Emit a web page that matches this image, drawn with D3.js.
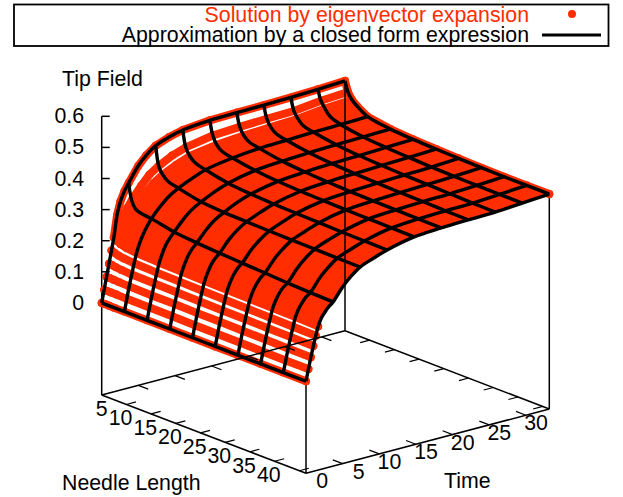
<!DOCTYPE html>
<html>
<head>
<meta charset="utf-8">
<script src="https://cdn.jsdelivr.net/npm/d3@7"></script>
<style>
  html, body { margin: 0; padding: 0; background: #fff; }
  text { font-family: "Liberation Sans", Arial, sans-serif; font-size: 21.3px; fill: #000; }
</style>
</head>
<body>
<div id="chart"></div>
<script>
// needle lengths and times of the surface samples
const lengths = [5, 5.6, 6.4, 7.5, 9.59, 14.19, 18.78, 23.38, 27.97, 32.57, 37.16, 41.76, 46.35];
const times = [0, 0.33, 0.66, 1, 1.33, 1.66, 2.1, 2.55, 3.1, 3.69, 5, 6.1, 7.38, 9.2, 11.07, 14.76, 18.44, 22.13, 25.82, 29.51, 33.2];

// tip field, one row per time. both series sit on top of each other within reading accuracy
const tipField = [
  [0, 0, 0, 0, 0, 0, 0, 0, 0, 0, 0, 0, 0],
  [.04, .04, .04, .04, .039, .039, .039, .038, .038, .038, .037, .037, .037],
  [.08, .08, .079, .078, .077, .076, .076, .075, .075, .074, .074, .073, .073],
  [.12, .119, .117, .115, .113, .112, .111, .11, .109, .109, .108, .108, .107],
  [.16, .157, .153, .15, .147, .145, .144, .143, .142, .141, .14, .139, .138],
  [.2, .193, .187, .182, .178, .175, .174, .172, .171, .17, .169, .168, .166],
  [.27, .235, .225, .215, .208, .203, .2, .198, .196, .195, .193, .192, .19],
  [.31, .265, .248, .24, .232, .226, .222, .219, .216, .213, .211, .208, .205],
  [.34, .29, .27, .261, .255, .245, .24, .236, .233, .23, .227, .224, .22],
  [.363, .31, .287, .28, .276, .261, .254, .249, .245, .241, .237, .234, .232],
  [.41, .35, .33, .318, .31, .295, .289, .285, .282, .279, .276, .274, .272],
  [.437, .378, .355, .342, .333, .318, .312, .308, .305, .303, .301, .299, .298],
  [.46, .398, .375, .36, .351, .335, .329, .327, .325, .324, .323, .322, .321],
  [.476, .42, .395, .38, .37, .356, .35, .345, .343, .341, .34, .339, .338],
  [.487, .435, .412, .397, .387, .372, .365, .361, .359, .357, .355, .354, .353],
  [.495, .45, .425, .41, .402, .39, .383, .379, .377, .375, .374, .373, .372],
  [.497, .455, .432, .418, .41, .397, .39, .386, .383, .381, .38, .379, .378],
  [.498, .458, .436, .421, .413, .401, .394, .39, .387, .385, .384, .382, .381],
  [.5, .46, .44, .424, .416, .404, .397, .393, .39, .388, .386, .384, .383],
  [.503, .47, .45, .43, .418, .406, .4, .396, .393, .391, .39, .389, .389],
  [.507, .475, .455, .44, .42, .408, .403, .4, .398, .396, .395, .395, .395]
];

// which samples the closed form grid lines go through
const gridLengthIdx = [0, 4, 5, 6, 7, 8, 9, 10, 11, 12];
const gridTimeIdx = [0, 9, 12, 14, 15, 16, 17, 18, 19, 20];

const lengthTicks = [10, 15, 20, 25, 30, 35, 40, 45];
const lengthLabels = [5, 10, 15, 20, 25, 30, 35, 40];
const timeTicks = [5, 10, 15, 20, 25, 30];
const timeLabels = [0, 5, 10, 15, 20, 25, 30];
const zTicks = [0, 0.1, 0.2, 0.3, 0.4, 0.5, 0.6];

const red = "#ff2d00";
const width = 623, height = 497;
const dotR = 4;

const svg = d3.select("#chart").append("svg").attr("width", width).attr("height", height)
  .style("display", "block");

// 3d box: the base is a parallelogram, z goes straight up
const lenScale = d3.scaleLinear().domain([5, 46.35]).range([0, 1]);
const timeScale = d3.scaleLinear().domain([0, 33.2]).range([0, 1]);
const zMin = -0.296;
const zScale = d3.scaleLinear().domain([zMin, 0.6]).range([395, 116.3]);

function project(len, time, z) {
  const u = lenScale(len), v = timeScale(time);
  return [101.7 + u * 204.3 + v * 243.3, zScale(z) + u * 78.3 - v * 64.3];
}
const lenMin = lenScale.domain()[0], lenMax = lenScale.domain()[1];
const timeMax = timeScale.domain()[1];

const lineGen = d3.line();
const smoothGen = d3.line().curve(d3.curveCatmullRom.alpha(0.5));

function seg(g, a, b, w) {
  g.append("line").attr("x1", a[0]).attr("y1", a[1]).attr("x2", b[0]).attr("y2", b[1])
    .attr("stroke", "#000").attr("stroke-width", w || 1.5);
}

const back = svg.append("g");    // stuff the surface covers
const surf = svg.append("g");    // red points
const over = svg.append("g");    // box lines on top of the red
const grid = svg.append("g");    // black lines
const labels = svg.append("g");

// z axis on the left corner
seg(back, project(lenMin, 0, zMin), project(lenMin, 0, 0.6));
zTicks.forEach(z => {
  const p = project(lenMin, 0, z);
  seg(back, p, [p[0] + 8, p[1]]);
  labels.append("text").attr("x", 84).attr("y", p[1] + 7).attr("text-anchor", "end").text(z);
});
// other verticals stop at the surface
seg(back, project(lenMax, 0, zMin), project(lenMax, 0, tipField[0][12]));
seg(back, project(lenMax, timeMax, zMin), project(lenMax, timeMax, tipField[20][12]));

// red surface: points, thick rows where they overlap, filled where the points are solid
const rowPts = (i, from, to) => d3.range(from, to).map(j => project(lengths[j], times[i], tipField[i][j]));
const colPts = (j, from, to) => d3.range(from, to).map(i => project(lengths[j], times[i], tipField[i][j]));

for (let i = 5; i < times.length - 1; i++) {
  for (let j = 2; j < lengths.length - 1; j++) {
    surf.append("path")
      .attr("d", lineGen([
        project(lengths[j], times[i], tipField[i][j]),
        project(lengths[j + 1], times[i], tipField[i][j + 1]),
        project(lengths[j + 1], times[i + 1], tipField[i + 1][j + 1]),
        project(lengths[j], times[i + 1], tipField[i + 1][j])
      ]) + "Z")
      .attr("fill", red).attr("stroke", red).attr("stroke-width", 1);
  }
}

function thick(pts) {
  surf.append("path").attr("d", lineGen(pts)).attr("fill", "none").attr("stroke", red)
    .attr("stroke-width", dotR * 2).attr("stroke-linecap", "round").attr("stroke-linejoin", "round");
}
d3.range(0, 6).forEach(i => thick(rowPts(i, 0, lengths.length)));
d3.range(6, 10).forEach(i => thick(rowPts(i, 2, lengths.length - 1)));
thick(rowPts(20, 0, lengths.length));
thick(colPts(0, 5, times.length));
thick(colPts(1, 5, times.length));
thick(colPts(2, 5, times.length));

tipField.forEach((row, i) => row.forEach((z, j) => {
  if (j === 12 && i > 5 && i < 20) return;
  const p = project(lengths[j], times[i], z);
  surf.append("circle").attr("cx", p[0]).attr("cy", p[1]).attr("r", dotR).attr("fill", red);
}));

// box floor and the back vertical, all drawn over the red
const corners = [project(lenMin, 0, zMin), project(lenMax, 0, zMin), project(lenMax, timeMax, zMin), project(lenMin, timeMax, zMin)];
corners.forEach((c, k) => seg(over, c, corners[(k + 1) % 4]));
seg(over, project(lenMin, timeMax, zMin), project(lenMin, timeMax, tipField[20][0]));

// ticks on all four floor edges
lengthTicks.forEach(l => {
  seg(over, project(l, 0, zMin), project(l, 1.3, zMin), 1.2);
  seg(over, project(l, timeMax, zMin), project(l, timeMax - 1.3, zMin), 1.2);
});
timeTicks.forEach(t => {
  seg(over, project(lenMin, t, zMin), project(lenMin + 2, t, zMin), 1.2);
  seg(over, project(lenMax, t, zMin), project(lenMax - 2, t, zMin), 1.2);
});
lengthLabels.forEach(l => {
  const p = project(l, 0, zMin);
  labels.append("text").attr("x", p[0] + 6).attr("y", p[1] + 21).attr("text-anchor", "end").text(l);
});
timeLabels.forEach(t => {
  const p = project(lenMax, t, zMin);
  labels.append("text").attr("x", p[0] + 22).attr("y", p[1] + 15).attr("text-anchor", "end").text(t);
});

// black grid of the closed form
gridLengthIdx.forEach(j => {
  grid.append("path").attr("d", smoothGen(colPts(j, 0, times.length)))
    .attr("fill", "none").attr("stroke", "#000").attr("stroke-width", 3.4);
});
gridTimeIdx.forEach(i => {
  grid.append("path").attr("d", smoothGen(rowPts(i, 0, lengths.length)))
    .attr("fill", "none").attr("stroke", "#000").attr("stroke-width", 3.4);
});

// axis titles
labels.append("text").attr("x", 62).attr("y", 86).text("Tip Field");
labels.append("text").attr("x", 62).attr("y", 490).text("Needle Length");
labels.append("text").attr("x", 444).attr("y", 488).text("Time");

// legend
const legend = svg.append("g");
legend.append("rect").attr("x", 14).attr("y", 4.5).attr("width", 594.5).attr("height", 41.5)
  .attr("fill", "none").attr("stroke", "#000").attr("stroke-width", 1.8);
legend.append("text").attr("x", 529).attr("y", 22).attr("text-anchor", "end").style("fill", red)
  .text("Solution by eigenvector expansion");
legend.append("text").attr("x", 529).attr("y", 42).attr("text-anchor", "end")
  .text("Approximation by a closed form expression");
legend.append("circle").attr("cx", 572).attr("cy", 14).attr("r", dotR).attr("fill", red);
legend.append("line").attr("x1", 542).attr("x2", 601).attr("y1", 35).attr("y2", 35)
  .attr("stroke", "#000").attr("stroke-width", 3.2);
</script>
</body>
</html>
